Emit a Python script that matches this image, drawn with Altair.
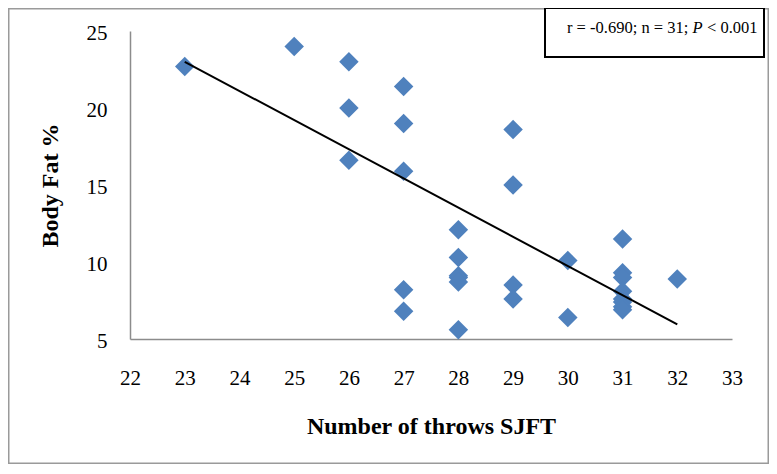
import altair as alt
import pandas as pd

# Data
throws = [23, 25, 26, 26, 26, 27, 27, 27, 27, 27, 28, 28, 28, 28, 28, 28,
          29, 29, 29, 29, 30, 30, 31, 31, 31, 31, 31, 31, 31, 31, 32]
body_fat = [22.7, 24.0, 23.0, 20.0, 16.6, 21.4, 19.0, 15.9, 8.2, 6.8,
            12.1, 10.3, 9.1, 9.0, 8.7, 5.6, 18.6, 15.0, 8.5, 7.6,
            10.1, 6.4, 11.5, 9.3, 9.0, 8.1, 7.6, 7.4, 7.1, 6.9, 8.9]

trend_x = [23, 32]
trend_y = [23.0, 5.95]

x_ticks = list(range(22, 34))
y_ticks = [5, 10, 15, 20, 25]

annot_main = "r = -0.690; n = 31;"
annot_p = "P"
annot_rest = "< 0.001"

FONT = "Liberation Serif"
BLUE = "#4F81BD"

pts = pd.DataFrame({"x": throws, "y": body_fat})
trend = pd.DataFrame({"x": trend_x, "y": trend_y})

xscale = alt.Scale(domain=[22, 33], nice=False, zero=False)
yscale = alt.Scale(domain=[5, 25], nice=False, zero=False)

xaxis = alt.Axis(values=x_ticks, format="d", labelOverlap=False,
                 labelFlush=False, labelBound=False,
                 grid=False, ticks=False, tickSize=0,
                 domainColor="#8c8c8c", domainWidth=1.5,
                 labelFont=FONT, labelFontSize=21, labelColor="#000000",
                 labelPadding=39, labelBaseline="middle",
                 title="Number of throws SJFT", titleFont=FONT,
                 titleFontSize=24, titleFontWeight="bold", titleColor="#000000",
                 titleX=301, titleY=87, titleBaseline="middle",
                 titleAlign="center")
yaxis = alt.Axis(values=y_ticks, format="d", labelOverlap=False,
                 labelFlush=False, labelBound=False,
                 grid=False, ticks=False, tickSize=0,
                 domainColor="#8c8c8c", domainWidth=1.5,
                 labelFont=FONT, labelFontSize=21, labelColor="#000000",
                 labelPadding=23, labelBaseline="middle", labelOffset=2,
                 title="Body Fat %", titleFont=FONT,
                 titleFontSize=24, titleFontWeight="bold", titleColor="#000000",
                 titleX=-80, titleY=154, titleAngle=270,
                 titleBaseline="middle", titleAlign="center")

points = alt.Chart(pts).mark_point(
    shape="diamond", filled=True, size=380, color=BLUE, opacity=1
).encode(
    x=alt.X("x:Q", scale=xscale, axis=xaxis),
    y=alt.Y("y:Q", scale=yscale, axis=yaxis),
)

line = alt.Chart(trend).mark_line(color="#000000", strokeWidth=2).encode(
    x=alt.X("x:Q", scale=xscale),
    y=alt.Y("y:Q", scale=yscale),
)

one = alt.Data(values=[{"a": 1}])

border = alt.Chart(one).mark_rect(
    fill=None, fillOpacity=0, stroke="#9a9a9a", strokeWidth=1.5
).encode(
    x=alt.value(-121.25), x2=alt.value(638.25),
    y=alt.value(-22.25), y2=alt.value(432.25),
)

box = alt.Chart(one).mark_rect(
    fill="#ffffff", stroke="#000000", strokeWidth=2
).encode(
    x=alt.value(415), x2=alt.value(634),
    y=alt.value(-23), y2=alt.value(26),
)

t1 = alt.Chart(one).mark_text(
    text=annot_main, font=FONT, fontSize=16.5, align="left",
    baseline="middle", color="#000000"
).encode(x=alt.value(437), y=alt.value(-3))

t2 = alt.Chart(one).mark_text(
    text=annot_p, font=FONT, fontSize=16.5, fontStyle="italic",
    align="left", baseline="middle", color="#000000"
).encode(x=alt.value(562.5), y=alt.value(-3))

t3 = alt.Chart(one).mark_text(
    text=annot_rest, font=FONT, fontSize=16.5, align="left",
    baseline="middle", color="#000000"
).encode(x=alt.value(577), y=alt.value(-3))

chart = alt.layer(border, points, line, box, t1, t2, t3).properties(
    width=602, height=308,
    autosize=alt.AutoSizeParams(type="none"),
    padding={"left": 122, "top": 23, "right": 37, "bottom": 125},
    background="#ffffff",
).configure_view(stroke=None)

chart.save("out.html", embed_options={"renderer": "svg", "actions": False})
